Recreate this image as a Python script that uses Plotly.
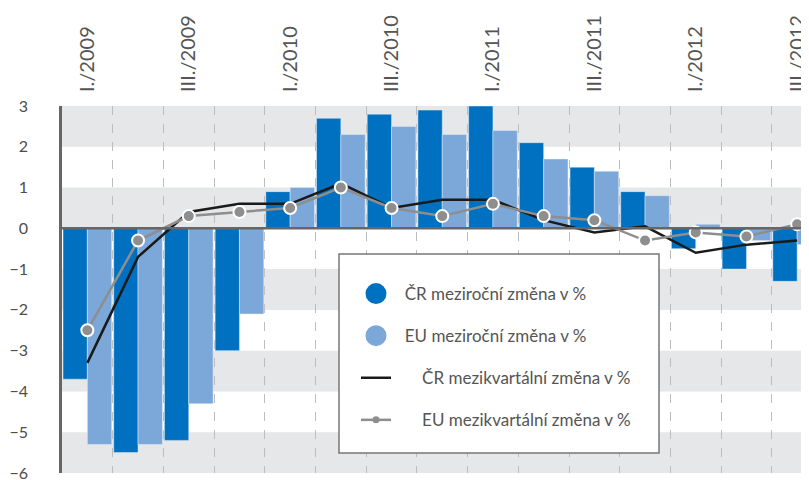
import plotly.graph_objects as go

quarters = ["I./2009", "II./2009", "III./2009", "IV./2009",
            "I./2010", "II./2010", "III./2010", "IV./2010",
            "I./2011", "II./2011", "III./2011", "IV./2011",
            "I./2012", "II./2012", "III./2012"]
cr_yoy = [-3.7, -5.5, -5.2, -3.0, 0.9, 2.7, 2.8, 2.9, 3.0, 2.1, 1.5, 0.9, -0.5, -1.0, -1.3]
eu_yoy = [-5.3, -5.3, -4.3, -2.1, 1.0, 2.3, 2.5, 2.3, 2.4, 1.7, 1.4, 0.8, 0.1, -0.3, -0.4]
cr_qoq = [-3.3, -0.7, 0.4, 0.6, 0.6, 1.1, 0.5, 0.7, 0.7, 0.2, -0.1, 0.05, -0.6, -0.4, -0.3]
eu_qoq = [-2.5, -0.3, 0.3, 0.4, 0.5, 1.0, 0.5, 0.3, 0.6, 0.3, 0.2, -0.3, -0.1, -0.2, 0.1]
y_ticks = [3, 2, 1, 0, -1, -2, -3, -4, -5, -6]
names = ["ČR meziroční změna v %", "EU meziroční změna v %",
         "ČR mezikvartální změna v %", "EU mezikvartální změna v %"]

C_CR = "#0070C0"
C_EU = "#7BA7D9"
C_LINE_CR = "#1a1a1a"
C_LINE_EU = "#8e8e8e"
TXT = "#555555"
FONT = "Lato"

# the page body has an 8px margin; work in window pixels
OFF = 8
WIN_W, WIN_H = 809, 480
PL, PT, PB = 62, 106, 473          # plot left / top / bottom in window px
W = WIN_W - OFF
H = WIN_H - OFF
PW = WIN_W - PL
PH = PB - PT

x = list(range(len(quarters)))

fig = go.Figure()
fig.add_bar(x=x, y=cr_yoy, marker_color=C_CR, showlegend=False, name=names[0])
fig.add_bar(x=x, y=eu_yoy, marker_color=C_EU, showlegend=False, name=names[1])
fig.add_scatter(x=x, y=cr_qoq, mode="lines", line=dict(color=C_LINE_CR, width=2.5),
                showlegend=False, name=names[2])
fig.add_scatter(x=x, y=eu_qoq, mode="lines+markers",
                line=dict(color=C_LINE_EU, width=2.5),
                marker=dict(color=C_LINE_EU, size=12, line=dict(color="white", width=2)),
                showlegend=False, name=names[3])

# legend entries
SP2 = "\u00a0" * 2
SP6 = "\u00a0" * 6
fig.add_scatter(x=[None], y=[None], mode="markers", name=SP2 + names[0], legendgroup="a",
                marker=dict(color=C_CR, size=16, line=dict(color=C_CR, width=5)))
fig.add_scatter(x=[None], y=[None], mode="markers", name=SP2 + names[1], legendgroup="b",
                marker=dict(color=C_EU, size=16, line=dict(color=C_EU, width=5)))
fig.add_scatter(x=[None], y=[None], mode="lines", name=SP6 + names[2], legendgroup="c",
                line=dict(color=C_LINE_CR, width=2.5))
fig.add_scatter(x=[None], y=[None], mode="lines+markers", name=SP6 + names[3], legendgroup="d",
                line=dict(color=C_LINE_EU, width=2.5),
                marker=dict(color=C_LINE_EU, size=7))

def px_to_paper_x(px):
    return (px - PL) / PW

def px_to_paper_y(py):
    return (PB - py) / PH

shapes = []
# alternating bands
for lo in [2, 0, -2, -4, -6]:
    shapes.append(dict(type="rect", xref="paper", yref="y", x0=0, x1=1, y0=lo, y1=lo + 1,
                       fillcolor="#e6e7e9", line_width=0, layer="below"))
# zero line
shapes.append(dict(type="line", xref="paper", yref="y", x0=0, x1=1, y0=0, y1=0,
                   line=dict(color="#666666", width=2.5), layer="above"))
# legend box
shapes.append(dict(type="rect", xref="paper", yref="paper",
                   x0=px_to_paper_x(339), x1=px_to_paper_x(659),
                   y0=px_to_paper_y(453), y1=px_to_paper_y(254),
                   fillcolor="white", line=dict(color="#777777", width=1.5), layer="above"))

fig.update_layout(
    width=W, height=H,
    margin=dict(l=PL - OFF, r=0, t=PT - OFF, b=H - (PB - OFF), pad=0, autoexpand=False),
    paper_bgcolor="white", plot_bgcolor="white",
    barmode="group", bargap=0.04, bargroupgap=0,
    font=dict(family=FONT, color=TXT),
    shapes=shapes,
    legend=dict(x=px_to_paper_x(356), y=px_to_paper_y(276), xanchor="left", yanchor="top",
                bgcolor="rgba(0,0,0,0)", borderwidth=0, tracegroupgap=17,
                font=dict(family=FONT, size=17, color=TXT)),
)
fig.update_xaxes(
    range=[-0.5, -0.5 + PW / 50.7], side="top", automargin=False,
    tickmode="array", tickvals=x[::2], ticktext=quarters[::2],
    tickangle=-90, tickfont=dict(size=20, color=TXT), ticks="",
    ticklabelstandoff=13, ticklabeloverflow="allow",
    showgrid=False, zeroline=False, showline=False,
    minor=dict(tickmode="array", tickvals=[i + 0.5 for i in x[:-1]],
               showgrid=True, gridcolor="#bdbdbd", griddash="dash", gridwidth=1, ticks=""),
)
fig.update_yaxes(
    range=[-6, 3], tickmode="array", tickvals=y_ticks, automargin=False,
    tickfont=dict(size=16, color="#4d4d4d"), ticks="", ticklabelstandoff=28,
    ticklabeloverflow="allow",
    showgrid=False, zeroline=False,
    showline=True, linecolor="#666666", linewidth=2.5,
)

fig.write_html("out.html")
